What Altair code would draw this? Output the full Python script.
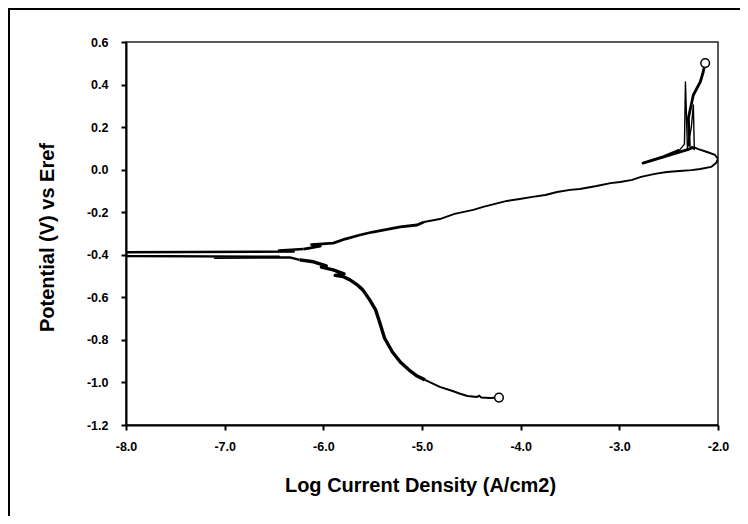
import altair as alt
import pandas as pd

# ---------------- data ----------------
x_ticks = [-8.0, -7.0, -6.0, -5.0, -4.0, -3.0, -2.0]
y_ticks = [-1.2, -1.0, -0.8, -0.6, -0.4, -0.2, 0.0, 0.2, 0.4, 0.6]

# cathodic branch, from the start of the scan (open circle) towards Ecorr
cath_tail_x = [-4.22, -4.31, -4.40, -4.42, -4.44, -4.54, -4.62, -4.69, -4.82, -4.97]
cath_tail_y = [-1.071, -1.073, -1.071, -1.062, -1.068, -1.064, -1.052, -1.040, -1.021, -0.988]

cath_main_x = [-4.97, -5.05, -5.12, -5.22, -5.30, -5.38, -5.43, -5.47, -5.53, -5.60,
               -5.66, -5.73, -5.80, -5.88, -5.79, -5.90, -6.02, -5.97, -6.10, -6.24]
cath_main_y = [-0.988, -0.970, -0.946, -0.904, -0.857, -0.791, -0.716, -0.659, -0.612, -0.565,
               -0.540, -0.518, -0.502, -0.497, -0.490, -0.471, -0.458, -0.452, -0.433, -0.424]

# around the corrosion potential
ecorr_x = [-6.24, -6.34, -7.10, -6.45, -8.00, -8.00, -6.30, -6.45, -6.20]
ecorr_y = [-0.424, -0.412, -0.414, -0.409, -0.406, -0.388, -0.385, -0.380, -0.373]

# anodic branch
anod_low_x = [-6.20, -6.03, -6.12, -5.90, -5.78, -5.63, -5.50, -5.34, -5.22, -5.05, -4.98]
anod_low_y = [-0.373, -0.359, -0.352, -0.345, -0.326, -0.307, -0.293, -0.279, -0.269, -0.260, -0.246]

anod_high_x = [-4.98, -4.82, -4.67, -4.48, -4.38, -4.26, -4.14, -4.01, -3.88, -3.75, -3.63,
               -3.50, -3.40, -3.23, -3.09, -2.99, -2.87, -2.78, -2.64, -2.52, -2.39, -2.27,
               -2.18, -2.07, -2.02, -2.00, -2.03, -2.11, -2.20, -2.25]
anod_high_y = [-0.246, -0.232, -0.208, -0.189, -0.175, -0.161, -0.147, -0.138, -0.128, -0.119, -0.105,
               -0.095, -0.091, -0.077, -0.063, -0.058, -0.048, -0.034, -0.020, -0.011, -0.006, -0.002,
               0.003, 0.013, 0.031, 0.050, 0.069, 0.083, 0.097, 0.107]

passive_x = [-2.25, -2.30, -2.76, -2.55, -2.39]
passive_y = [0.107, 0.095, 0.031, 0.062, 0.092]

spikes_x = [-2.39, -2.34, -2.33, -2.31, -2.27, -2.25, -2.24, -2.29]
spikes_y = [0.092, 0.120, 0.412, 0.100, 0.200, 0.304, 0.095, 0.110]

final_x = [-2.29, -2.30, -2.25, -2.18, -2.15, -2.13]
final_y = [0.110, 0.243, 0.351, 0.412, 0.459, 0.501]

# ---------------- chart ----------------
FONT = "Liberation Sans"
W, H = 592, 383
PAD = {"left": 118, "top": 34, "right": 22, "bottom": 91}

segments = [
    (cath_tail_x, cath_tail_y, 2.0),
    (cath_main_x, cath_main_y, 3.4),
    (ecorr_x, ecorr_y, 2.4),
    (anod_low_x, anod_low_y, 2.8),
    (anod_high_x, anod_high_y, 1.9),
    (passive_x, passive_y, 2.8),
    (spikes_x, spikes_y, 1.4),
    (final_x, final_y, 2.8),
]

minus_fix = "replace(format(datum.value, '.1f'), '\u2212', '-')"

x_enc = alt.X(
    "x:Q",
    scale=alt.Scale(domain=[-8, -2], nice=False, zero=False),
    axis=alt.Axis(
        values=x_ticks, labelExpr=minus_fix, grid=False,
        title="Log Current Density (A/cm2)",
        domainColor="black", domainWidth=2, tickColor="black", tickWidth=2, tickSize=5,
        labelFont=FONT, labelFontSize=12.5, labelFontWeight="bold", labelColor="black",
        labelPadding=10, labelFlush=False, labelOverlap=False,
        titleFont=FONT, titleFontSize=20, titleFontWeight="bold", titleColor="black",
        titleX=294, titleY=66, titleBaseline="alphabetic", titleAlign="center",
    ),
)
y_enc = alt.Y(
    "y:Q",
    scale=alt.Scale(domain=[-1.2, 0.6], nice=False, zero=False),
    axis=alt.Axis(
        values=y_ticks, labelExpr=minus_fix, grid=False,
        title="Potential (V) vs Eref",
        domainColor="black", domainWidth=2, tickColor="black", tickWidth=2, tickSize=5,
        labelFont=FONT, labelFontSize=12.5, labelFontWeight="bold", labelColor="black",
        labelPadding=13, labelFlush=False, labelOverlap=False,
        titleFont=FONT, titleFontSize=20, titleFontWeight="bold", titleColor="black",
        titleX=-73, titleY=195, titleBaseline="alphabetic", titleAlign="center",
    ),
)

# outer chart frame (only its left and top edges fall inside the picture)
one = pd.DataFrame({"a": [0]})
frame_left = alt.Chart(one).mark_rule(stroke="black", strokeWidth=2).encode(
    x=alt.value(-117), y=alt.value(-33), y2=alt.value(H + PAD["bottom"])
)
frame_top = alt.Chart(one).mark_rule(stroke="black", strokeWidth=2).encode(
    x=alt.value(-118), x2=alt.value(W + PAD["right"]), y=alt.value(-33)
)

layers = [frame_left, frame_top]
for xs, ys, w in segments:
    df = pd.DataFrame({"x": xs, "y": ys, "i": list(range(len(xs)))})
    layers.append(
        alt.Chart(df).mark_line(color="black", strokeWidth=w, strokeJoin="round", clip=True)
        .encode(x=x_enc, y=y_enc, order=alt.Order("i:Q"))
    )

ends = pd.DataFrame({"x": [cath_tail_x[0], final_x[-1]], "y": [cath_tail_y[0], final_y[-1]]})
layers.append(
    alt.Chart(ends).mark_point(
        shape="circle", filled=True, fill="white", stroke="black",
        strokeWidth=1.5, size=75, opacity=1
    ).encode(x=x_enc, y=y_enc)
)

chart = alt.layer(*layers).properties(
    width=W, height=H,
    autosize=alt.AutoSizeParams(type="none"),
    padding=PAD,
).configure_view(stroke="#222", strokeWidth=1.5)

chart.save("out.html", embed_options={"renderer": "svg", "actions": False})
